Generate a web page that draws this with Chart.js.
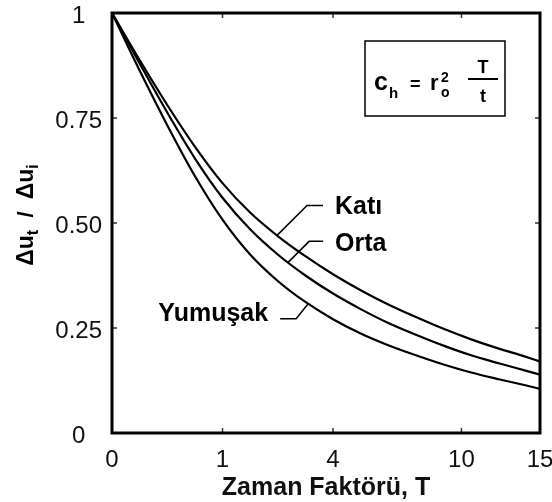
<!DOCTYPE html>
<html>
<head>
<meta charset="utf-8">
<script src="https://cdn.jsdelivr.net/npm/chart.js@4/dist/chart.umd.min.js"></script>
<style>
  html, body { margin: 0; padding: 0; background: #ffffff; }
  #wrap { width: 552px; height: 502px; }
</style>
</head>
<body>
<div id="wrap"><canvas id="c" width="552" height="502"></canvas></div>
<script>
// Time factor T at which each curve is sampled
const timeFactor = [0, 0.0625, 0.25, 0.5625, 1, 1.5625, 2.25, 3.0625, 4, 5.0625,
                    6.25, 7.5625, 9, 10.5625, 12.25, 14.0625, 15];
// Normalised excess pore pressure Δu_t / Δu_i for each soil stiffness
const katiValues    = [1, 0.888, 0.781, 0.682, 0.595, 0.525, 0.469, 0.421, 0.378, 0.340,
                       0.306, 0.276, 0.248, 0.223, 0.201, 0.181, 0.170];
const ortaValues    = [1, 0.880, 0.763, 0.654, 0.560, 0.485, 0.425, 0.375, 0.332, 0.295,
                       0.262, 0.234, 0.208, 0.185, 0.166, 0.148, 0.139];
const yumusakValues = [1, 0.863, 0.733, 0.612, 0.508, 0.425, 0.362, 0.312, 0.271, 0.237,
                       0.209, 0.185, 0.163, 0.144, 0.128, 0.113, 0.105];
const seriesNames = ['Katı', 'Orta', 'Yumuşak'];
// Axis ticks
const xTickLabels = [0, 1, 4, 10, 15];
const yTickValues = [0, 0.25, 0.5, 0.75, 1];
const yTickLabels = ['0', '0.25', '0.50', '0.75', '1'];
// Time factor at which each curve label's leader line meets its curve
const labelAnchorT = [2.23, 2.54, 3.15];

const FONT = '"Liberation Sans", Arial, Helvetica, sans-serif';
// the horizontal axis is drawn on a square-root scale of T
const toAxis = t => Math.sqrt(t);

const allSeries = [katiValues, ortaValues, yumusakValues];

function valueAt(values, t) {
  const s = toAxis(t);
  for (let i = 1; i < timeFactor.length; i++) {
    const s0 = toAxis(timeFactor[i - 1]), s1 = toAxis(timeFactor[i]);
    if (s <= s1) {
      const f = (s - s0) / (s1 - s0);
      return values[i - 1] + f * (values[i] - values[i - 1]);
    }
  }
  return values[values.length - 1];
}

// Frame, inward tick marks, curve labels, formula box and y-axis title
const decorations = {
  id: 'decorations',
  afterDraw(chart) {
    const { ctx, chartArea: a, scales: { x, y } } = chart;
    ctx.save();
    ctx.fillStyle = '#000';

    // inward ticks
    ctx.lineWidth = 1.5;
    ctx.strokeStyle = '#333';
    const tl = 5;
    ctx.beginPath();
    yTickValues.forEach(v => {
      if (v <= 0 || v >= 1) return;
      const py = y.getPixelForValue(v);
      ctx.moveTo(a.left, py); ctx.lineTo(a.left + tl, py);
      ctx.moveTo(a.right, py); ctx.lineTo(a.right - tl, py);
    });
    xTickLabels.forEach(t => {
      if (t <= 0 || t >= 15) return;
      const px = x.getPixelForValue(toAxis(t));
      ctx.moveTo(px, a.bottom); ctx.lineTo(px, a.bottom - tl);
      ctx.moveTo(px, a.top); ctx.lineTo(px, a.top + tl);
    });
    ctx.stroke();

    // frame
    ctx.strokeStyle = '#000';
    ctx.lineWidth = 3;
    ctx.strokeRect(a.left, a.top, a.right - a.left, a.bottom - a.top);

    // curve labels with leader lines
    const leaders = [
      { elbow: [30, -30], end: [46, -30], text: [12, 2], align: 'left' },
      { elbow: [21, -21], end: [35, -21], text: [12, 3], align: 'left' },
      { elbow: [-12, 15], end: [-28, 15], text: [-12, -5], align: 'right' }
    ];
    ctx.lineWidth = 1.5;
    ctx.font = 'bold 25px ' + FONT;
    ctx.textBaseline = 'middle';
    seriesNames.forEach((name, i) => {
      const t = labelAnchorT[i];
      const px = x.getPixelForValue(toAxis(t));
      const py = y.getPixelForValue(valueAt(allSeries[i], t));
      const L = leaders[i];
      ctx.beginPath();
      ctx.moveTo(px, py);
      ctx.lineTo(px + L.elbow[0], py + L.elbow[1]);
      ctx.lineTo(px + L.end[0], py + L.end[1]);
      ctx.stroke();
      ctx.textAlign = L.align;
      ctx.fillText(name, px + L.end[0] + L.text[0], py + L.end[1] + L.text[1]);
    });

    // formula box: c_h = r_o^2 T / t
    const bx = a.right - 175, by = a.top + 28, bw = 140, bh = 75;
    ctx.lineWidth = 1.5;
    ctx.strokeRect(bx, by, bw, bh);
    ctx.textBaseline = 'alphabetic';
    ctx.textAlign = 'left';
    ctx.font = 'bold 25px ' + FONT; ctx.fillText('c', bx + 9, by + 49);
    ctx.font = 'bold 15px ' + FONT; ctx.fillText('h', bx + 24, by + 57);
    ctx.font = 'bold 18px ' + FONT; ctx.fillText('=', bx + 45, by + 49);
    ctx.font = 'bold 22px ' + FONT; ctx.fillText('r', bx + 65, by + 49);
    ctx.font = 'bold 14px ' + FONT;
    ctx.fillText('2', bx + 76, by + 41);
    ctx.fillText('o', bx + 76, by + 56);
    ctx.textAlign = 'center';
    ctx.font = 'bold 18px ' + FONT;
    ctx.fillText('T', bx + 118, by + 32);
    ctx.fillRect(bx + 103, by + 37, 30, 2);
    ctx.fillText('t', bx + 118, by + 61);

    // y-axis title: Δu_t / Δu_i, reading upwards
    const parts = [
      { s: 'Δu', f: 'bold 23px ', dy: 0 },
      { s: 't', f: 'bold 16px ', dy: 5 },
      { s: '  /  ', f: 'bold 22px ', dy: 0 },
      { s: 'Δu', f: 'bold 23px ', dy: 0 },
      { s: 'i', f: 'bold 16px ', dy: 5 }
    ];
    let total = 0;
    parts.forEach(p => { ctx.font = p.f + FONT; p.w = ctx.measureText(p.s).width; total += p.w; });
    const cy = 215;
    ctx.translate(33, cy + total / 2);
    ctx.rotate(-Math.PI / 2);
    ctx.textAlign = 'left';
    let cx = 0;
    parts.forEach(p => { ctx.font = p.f + FONT; ctx.fillText(p.s, cx, p.dy); cx += p.w; });

    ctx.restore();
  }
};

const makeSet = (label, values) => ({
  label,
  data: timeFactor.map((t, i) => ({ x: toAxis(t), y: values[i] })),
  borderColor: '#000',
  borderWidth: 2.2,
  pointRadius: 0,
  fill: false,
  cubicInterpolationMode: 'monotone'
});

new Chart(document.getElementById('c'), {
  type: 'line',
  data: {
    datasets: [
      makeSet(seriesNames[0], katiValues),
      makeSet(seriesNames[1], ortaValues),
      makeSet(seriesNames[2], yumusakValues)
    ]
  },
  options: {
    responsive: false,
    animation: false,
    devicePixelRatio: 1,
    layout: { padding: { left: 0, right: 12, top: 13, bottom: 0 } },
    plugins: { legend: { display: false }, tooltip: { enabled: false } },
    scales: {
      x: {
        type: 'linear',
        min: 0,
        max: toAxis(15),
        grid: { display: false, drawTicks: false },
        border: { display: false },
        afterBuildTicks: s => { s.ticks = xTickLabels.map(t => ({ value: toAxis(t) })); },
        ticks: {
          autoSkip: false, maxRotation: 0, padding: 13, color: '#111',
          font: { family: FONT, size: 24 },
          callback: (v, i) => String(xTickLabels[i])
        },
        title: {
          display: true, text: 'Zaman Faktörü, T', color: '#111',
          font: { family: FONT, size: 25, weight: 'bold' },
          padding: { top: 0, bottom: -1 }
        },
        afterFit: s => { s.height = 69; s.paddingLeft = 0; s.paddingRight = 0; }
      },
      y: {
        type: 'linear',
        min: 0,
        max: 1,
        grid: { display: false, drawTicks: false },
        border: { display: false },
        afterBuildTicks: s => { s.ticks = yTickValues.map(v => ({ value: v })); },
        ticks: {
          crossAlign: 'center', padding: 10, labelOffset: 3, color: '#111',
          font: { family: FONT, size: 24 },
          callback: (v, i) => yTickLabels[i]
        },
        afterFit: s => { s.width = 112; s.paddingTop = 0; s.paddingBottom = 0; }
      }
    }
  },
  plugins: [decorations]
});
</script>
</body>
</html>
